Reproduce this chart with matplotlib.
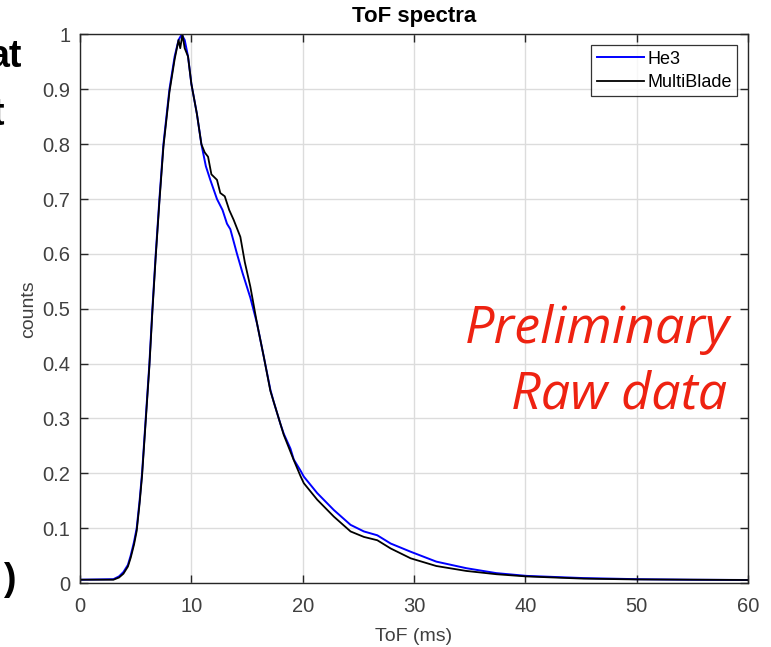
import matplotlib
matplotlib.use("Agg")
import numpy as np
from matplotlib import pyplot as plt

# values (ToF in ms, normalised counts)
he3_tof = [0, 3.0, 3.5, 3.9, 4.3, 4.55, 4.85, 5.09, 5.35, 5.57, 5.9, 6.23,
           6.5, 6.8, 7.13, 7.49, 8.03, 8.5, 8.85, 9.13, 9.4, 9.7, 10.0, 10.5,
           10.9, 11.3, 11.7, 12.3, 12.8, 13.2, 13.5, 14.1, 14.6, 15.3, 15.9,
           16.5, 17.1, 17.4, 18.0, 18.3, 18.9, 19.2, 19.8, 20.1, 21.3, 22.8,
           24.3, 25.5, 26.7, 27.9, 29.7, 32.0, 34.7, 37.4, 40.1, 45.2, 50.0,
           55.0, 60.0]
he3_counts = [0.006, 0.007, 0.012, 0.02, 0.033, 0.05, 0.075, 0.10, 0.15,
              0.20, 0.30, 0.40, 0.50, 0.60, 0.70, 0.80, 0.90, 0.96, 0.99, 1.0,
              0.99, 0.96, 0.91, 0.855, 0.80, 0.76, 0.735, 0.70, 0.68, 0.655,
              0.645, 0.60, 0.565, 0.52, 0.473, 0.413, 0.352, 0.33, 0.29,
              0.272, 0.245, 0.225, 0.205, 0.194, 0.164, 0.133, 0.106, 0.094,
              0.087, 0.072, 0.057, 0.039, 0.027, 0.018, 0.013, 0.009, 0.007,
              0.006, 0.0055]

mb_tof = [0, 3.0, 3.5, 3.9, 4.3, 4.55, 4.85, 5.09, 5.35, 5.57, 5.9, 6.23,
          6.5, 6.8, 7.13, 7.49, 8.03, 8.5, 8.85, 9.0, 9.2, 9.4, 9.7, 10.0,
          10.5, 10.9, 11.2, 11.5, 11.8, 12.3, 12.6, 13.0, 13.4, 13.8, 14.4,
          14.8, 15.3, 15.9, 16.5, 17.1, 17.4, 18.0, 18.3, 19.2, 19.8, 20.1,
          21.3, 22.8, 24.3, 25.5, 26.7, 27.9, 29.7, 32.0, 34.7, 37.4, 40.1,
          45.2, 50.0, 55.0, 60.0]
mb_counts = [0.006, 0.006, 0.01, 0.017, 0.03, 0.046, 0.07, 0.095, 0.145,
             0.195, 0.295, 0.395, 0.495, 0.595, 0.695, 0.795, 0.895, 0.955,
             0.99, 0.975, 1.0, 0.975, 0.96, 0.91, 0.855, 0.80, 0.785, 0.777,
             0.745, 0.735, 0.711, 0.705, 0.68, 0.662, 0.631, 0.585, 0.54,
             0.473, 0.413, 0.35, 0.33, 0.29, 0.27, 0.224, 0.195, 0.182, 0.152,
             0.121, 0.094, 0.084, 0.078, 0.063, 0.045, 0.031, 0.022, 0.016,
             0.012, 0.008, 0.0065, 0.006, 0.0055]

xticks = [0, 10, 20, 30, 40, 50, 60]
yticks = [0, 0.1, 0.2, 0.3, 0.4, 0.5, 0.6, 0.7, 0.8, 0.9, 1.0]
ytick_labels = ["0", "0.1", "0.2", "0.3", "0.4", "0.5", "0.6", "0.7", "0.8",
                "0.9", "1"]

plt.rcParams['font.family'] = ['Liberation Sans', 'DejaVu Sans']
axcol = '#262626'

fig = plt.figure(figsize=(7.71, 6.47), dpi=100)
ax = fig.add_axes([0.1038, 0.0989, 0.8664, 0.8478])

ax.plot(he3_tof, he3_counts, color='#0000ff', lw=1.4, label='He3')
ax.plot(mb_tof, mb_counts, color='black', lw=1.3, label='MultiBlade')

ax.set_xlim(0, 60)
ax.set_ylim(0, 1)
ax.set_xticks(xticks)
ax.set_yticks(yticks)
ax.set_yticklabels(ytick_labels)
ax.grid(True, color='#dcdcdc', lw=1.0)
ax.set_axisbelow(True)
ax.tick_params(direction='in', top=True, right=True, length=6, width=1,
               colors=axcol, labelsize=14.5, labelcolor='#404040')
ax.tick_params(axis='x', pad=10)
ax.tick_params(axis='y', pad=7)
for s in ax.spines.values():
    s.set_color(axcol)
    s.set_linewidth(1.0)

ax.set_title("ToF spectra", fontsize=16, fontweight='bold', pad=9)
ax.set_xlabel("ToF (ms)", fontsize=14, color='#404040', labelpad=9)
ax.set_ylabel("counts", fontsize=14, color='#404040', labelpad=4)

leg = ax.legend(loc='upper right', fontsize=13, frameon=True, fancybox=False,
                handlelength=2.6, handletextpad=0.2, borderpad=0.3,
                labelspacing=0.35, borderaxespad=0.6)
leg.get_frame().set_edgecolor('black')
leg.get_frame().set_linewidth(0.9)

ax.text(58.4, 0.4376, "Preliminary", ha='right', va='baseline', fontsize=37.5,
        style='italic', family='Open Sans', color='#ee2211')
ax.text(58.1, 0.319, "Raw data", ha='right', va='baseline', fontsize=37.5,
        style='italic', family='Open Sans', color='#ee2211')

# leftovers of the slide text, cut by the left edge
fig.text(22 / 771, 1 - 57 / 647, "at", ha='right', va='center', fontsize=27,
         fontweight='bold', color='black')
fig.text(4 / 771, 1 - 115 / 647, "t", ha='right', va='center', fontsize=27,
         fontweight='bold', color='black')
fig.text(16 / 771, 1 - 580 / 647, ")", ha='right', va='center', fontsize=27,
         fontweight='bold', color='black')

fig.savefig("out.png", dpi=100, facecolor='white')
